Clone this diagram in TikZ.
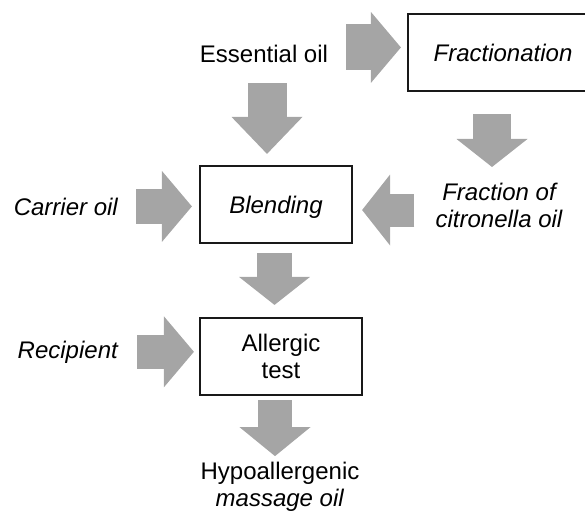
\documentclass[tikz,border=0pt]{standalone}
\usepackage{fontspec}
\setmainfont{Liberation Sans}
\usetikzlibrary{arrows.meta, positioning}
\definecolor{arrowgray}{RGB}{165,165,165}

\begin{document}
\begin{tikzpicture}[x=1pt, y=-1pt,
	every node/.style={font=\fontsize{24}{27}\selectfont, inner sep=0pt, align=center},
	stepbox/.style={draw=black!90, line width=2.2pt, minimum width=152pt, minimum height=77pt},
	oneline/.style={text height=17pt, text depth=0pt},
	fatarrow/.style={draw=arrowgray, line width=35pt, -{Triangle[length=#1, width=71pt, line width=0pt]}},
	fatarrow/.default=29pt]
	\clip (0,0) rectangle (585,512);

	\node[stepbox, oneline, minimum width=190pt] (frac) at (503,52.5) {\itshape Fractionation};
	\node[stepbox, oneline] (blend) at (276,204.5) {\itshape Blending};
	\node[stepbox, minimum width=162pt] (test) at (281,356.5) {Allergic\\test};

	\node[anchor=base] (ess) at (264,62) {Essential oil};
	\node[anchor=base east] (carrier) at (118,215) {\itshape Carrier oil};
	\node[font=\fontsize{24}{27}\selectfont\itshape] (fracoil) at (499,205) {Fraction of\\citronella oil};
	\node[anchor=base east] (recip) at (118,358) {\itshape Recipient};
	\node (hypo) at (280,486.5) {Hypoallergenic\\\textit{massage oil}};

	\draw[fatarrow=30pt, line width=46pt] ([shift={(18pt,6pt)}]ess.east) -- ([shift={(-6pt,6pt)}]ess.east -| frac.west);
	\draw[fatarrow=37pt, line width=39pt] ([shift={(3pt,-21pt)}]ess.south) -- ([shift={(3pt,11pt)}]ess.south |- blend.north);
	\draw[fatarrow=28pt, line width=38pt] ([shift={(-11pt,-22pt)}]frac.south) -- ([shift={(-11pt,15.5pt)}]frac.south |- fracoil.north);
	\draw[fatarrow=30pt] ([xshift=18pt]carrier.east) -- ([xshift=-7pt]carrier.east -| blend.west);
	\draw[fatarrow=28pt, line width=33pt] ([shift={(-21pt,-5pt)}]fracoil.west) -- ([shift={(9pt,-5pt)}]fracoil.west -| blend.east);
	\draw[fatarrow=28pt] ([shift={(-1.5pt,-9pt)}]blend.south) -- ([shift={(-1.5pt,12pt)}]blend.south |- test.north);
	\draw[fatarrow=30pt, line width=34pt] ([xshift=19pt]recip.east) -- ([xshift=-5pt]recip.east -| test.west);
	\draw[fatarrow, line width=34pt] ([shift={(-6pt,-4pt)}]test.south) -- ([shift={(-6pt,5.5pt)}]test.south |- hypo.north);

\end{tikzpicture}
\end{document}
